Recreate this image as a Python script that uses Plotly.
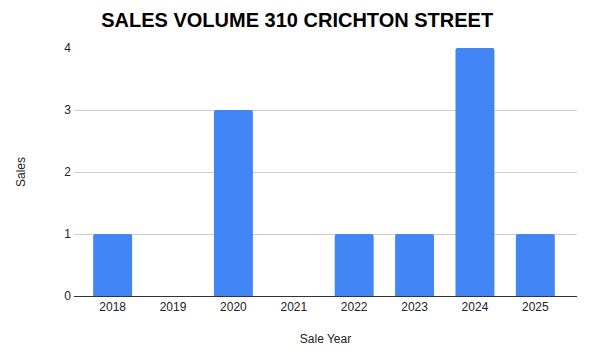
import plotly.graph_objects as go

years = ["2018", "2019", "2020", "2021", "2022", "2023", "2024", "2025"]
sales = [1, 0, 3, 0, 1, 1, 4, 1]
y_ticks = [0, 1, 2, 3, 4]

fig = go.Figure(go.Bar(
    x=years, y=sales,
    marker=dict(color="#4285F4", cornerradius=2, line=dict(width=0)),
    width=0.645,
))

font = "Liberation Sans, Arial, sans-serif"
# page body has an 8px margin, so offsets compensate for it
fig.update_layout(
    width=592, height=355,
    margin=dict(l=61, r=23, t=40, b=67),
    paper_bgcolor="white", plot_bgcolor="white",
    title=dict(text="<b>SALES VOLUME 310 CRICHTON STREET</b>",
               x=0.4885, xanchor="center", y=0.966, yanchor="middle",
               font=dict(family=font, size=20, color="#000000")),
    font=dict(family=font, size=12, color="#222222"),
    showlegend=False,
)
fig.update_xaxes(
    type="category", range=[-0.64, 7.69],
    showgrid=False, showline=True, linecolor="#333333", linewidth=1,
    ticks="", tickfont=dict(size=12, color="#222222"),
    title=dict(text="Sale Year", font=dict(size=12, color="#222222"), standoff=21),
)
fig.update_yaxes(
    range=[0, 4], tickvals=y_ticks, ticktext=[str(v) for v in y_ticks],
    showgrid=True, gridcolor="#cccccc", gridwidth=1,
    zeroline=False, ticks="", ticklabelstandoff=2,
    tickfont=dict(size=12, color="#222222"),
    title=dict(text="Sales", font=dict(size=12, color="#222222"), standoff=36),
)
fig.write_html("out.html")
